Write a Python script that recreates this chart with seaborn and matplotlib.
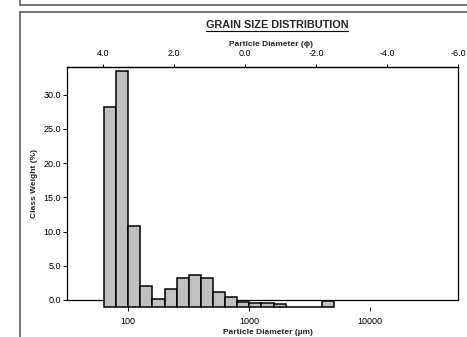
import numpy as np
import pandas as pd
import matplotlib
matplotlib.use('Agg')
import matplotlib.pyplot as plt
from matplotlib.lines import Line2D
import seaborn as sns

# bin edges (um), one sieve class per 0.1 decade
bin_edges_um = [63, 79, 100, 126, 158, 200, 251, 316, 398, 501, 631, 794,
                1000, 1259, 1585, 1995, 2512, 3162, 3981, 5012]
# bar tops as read on the Class Weight axis (bars start at the -1 baseline)
class_weight = [28.2, 33.4, 10.8, 2.05, 0.1, 1.55, 3.26, 3.7, 3.15, 1.2, 0.4,
                -0.35, -0.5, -0.5, -0.6, -1.0, -1.0, -1.0, -0.15]
baseline = -1.0

um_ticks = [100, 1000, 10000]
phi_ticks = [4.0, 2.0, 0.0, -2.0, -4.0, -6.0]
y_ticks = [0, 5, 10, 15, 20, 25, 30]

W, H = 467, 337
sns.set_style('white')
plt.rcParams['font.family'] = ['Liberation Sans', 'DejaVu Sans']
plt.rcParams['axes.unicode_minus'] = False

edges = np.log10(bin_edges_um)
df = pd.DataFrame({
    'logd': (edges[:-1] + edges[1:]) / 2,
    'weight': np.array(class_weight) - baseline,
})

fig = plt.figure(figsize=(W / 100, H / 100), dpi=100)
fig.patch.set_facecolor('white')


def fx(px):
    return px / W


def fy(py):
    return 1 - py / H


ax = fig.add_axes([fx(67), fy(306.8), (458.3 - 67) / W, (306.8 - 67) / H])

sns.histplot(data=df, x='logd', weights='weight', bins=list(edges), ax=ax,
             color='#c0c0c0', edgecolor='black', linewidth=1.1, alpha=1)
for p in ax.patches:
    p.set_y(baseline)
    p.set_clip_on(False)

ax.axhline(0, color='black', lw=0.9, zorder=0.5)
ax.set_xlim(1.4934, 4.7273)
ax.set_ylim(baseline, 34.04)

ax.set_xticks(np.log10(um_ticks))
ax.set_xticklabels([str(t) for t in um_ticks])
ax.set_yticks(y_ticks)
ax.set_yticklabels(['%.1f' % t for t in y_ticks])
ax.tick_params(axis='x', direction='out', length=3, width=0.7, pad=4.5,
               labelsize=6.5, colors='black', bottom=True, top=False)
ax.tick_params(axis='y', direction='out', length=3, width=0.7, pad=1.5,
               labelsize=6.5, colors='black', left=True)
ax.set_xlabel('')
ax.set_ylabel('')

for s in ['left', 'right']:
    ax.spines[s].set_bounds(0, 34.04)
    ax.spines[s].set_color('black')
    ax.spines[s].set_linewidth(0.9)
ax.spines['bottom'].set_visible(False)
ax.spines['top'].set_color('black')
ax.spines['top'].set_linewidth(0.9)

# phi scale on top
ax2 = ax.twiny()
ax2.set_xlim(5.0, -6.0)
ax2.set_xticks(phi_ticks)
ax2.set_xticklabels(['%.1f' % t for t in phi_ticks])
ax2.tick_params(axis='x', direction='out', length=2.5, width=0.7, pad=4,
                labelsize=6.5, colors='black')
for s in ['left', 'right', 'bottom']:
    ax2.spines[s].set_visible(False)
ax2.spines['top'].set_color('black')
ax2.spines['top'].set_linewidth(0.9)

# labels
title = fig.text(fx(277), fy(25.5), 'GRAIN SIZE DISTRIBUTION', ha='center',
                 va='center', fontsize=7.8, fontweight='bold')
fig.text(fx(271), fy(44), 'Particle Diameter (\u03d5)', ha='center',
         va='center', fontsize=6, fontweight='bold')
fig.text(fx(267.5), fy(332.5), 'Particle Diameter (\u00b5m)', ha='center',
         va='center', fontsize=6, fontweight='bold')
fig.text(fx(35), fy(183), 'Class Weight (%)', ha='center', va='center',
         rotation=90, fontsize=6, fontweight='bold')

# page frames
frame_kw = dict(color='#6a6a6a', lw=1.3, transform=fig.transFigure)
fig.add_artist(Line2D([fx(20), fx(W)], [fy(5), fy(5)], **frame_kw))
fig.add_artist(Line2D([fx(20), fx(20)], [fy(0), fy(5)], **frame_kw))
fig.add_artist(Line2D([fx(20), fx(W)], [fy(11.7), fy(11.7)], **frame_kw))
fig.add_artist(Line2D([fx(20), fx(20)], [fy(11.7), fy(H)], **frame_kw))

# underline the title
fig.canvas.draw()
bb = title.get_window_extent()
fig.add_artist(Line2D([bb.x0 / W, bb.x1 / W], [(bb.y0 - 0.5) / H] * 2,
                      color='black', lw=0.8, transform=fig.transFigure))

fig.savefig('out.png', dpi=100)
